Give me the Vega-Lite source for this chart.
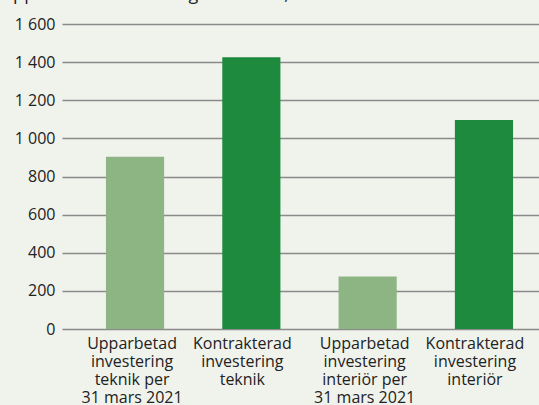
{
  "$schema": "https://vega.github.io/schema/vega-lite/v6.json",
  "width": 495,
  "height": 305,
  "autosize": {"type": "none"},
  "padding": {"left": 62, "top": 24, "right": 0, "bottom": 76},
  "background": "#f0f2ec",
  "title": {
    "text": "Upparbetad investering i tekniken, MSEK",
    "anchor": "start",
    "frame": "group",
    "dx": -62,
    "offset": 12,
    "font": "Open Sans",
    "fontSize": 18,
    "fontWeight": "normal",
    "color": "#222222"
  },
  "data": {
    "values": [
      {"kategori": "Upparbetad|investering|teknik per|31 mars 2021", "typ": "Upparbetad", "varde": 903},
      {"kategori": "Kontrakterad|investering|teknik", "typ": "Kontrakterad", "varde": 1426},
      {"kategori": "Upparbetad|investering|interiör per|31 mars 2021", "typ": "Upparbetad", "varde": 275},
      {"kategori": "Kontrakterad|investering|interiör", "typ": "Kontrakterad", "varde": 1096}
    ]
  },
  "mark": {"type": "bar"},
  "encoding": {
    "x": {
      "field": "kategori",
      "type": "nominal",
      "sort": null,
      "scale": {"paddingInner": 0.5, "paddingOuter": 0.378},
      "axis": {
        "title": null,
        "labelAngle": 0,
        "labelExpr": "split(datum.label, '|')",
        "labelLineHeight": 18,
        "labelPadding": 6,
        "labelBaseline": "top",
        "labelOffset": {"condition": {"test": "indexof(datum.value, 'Kontrakterad') === 0", "value": -9}, "value": -3},
        "domain": false,
        "ticks": false,
        "labelFont": "Open Sans",
        "labelFontSize": 16,
        "labelColor": "#222222",
        "labelLimit": 0
      }
    },
    "y": {
      "field": "varde",
      "type": "quantitative",
      "scale": {"domain": [0, 1600]},
      "axis": {
        "title": null,
        "values": [0, 200, 400, 600, 800, 1000, 1200, 1400, 1600],
        "labelExpr": "replace(format(datum.value, ','), ',', ' ')",
        "domain": false,
        "ticks": false,
        "labelPadding": 7,
        "gridColor": "#8a8a8a",
        "gridWidth": 1.5,
        "gridOpacity": 1,
        "labelFont": "Open Sans",
        "labelFontSize": 16,
        "labelColor": "#222222"
      }
    },
    "color": {
      "field": "typ",
      "type": "nominal",
      "scale": {"domain": ["Upparbetad", "Kontrakterad"], "range": ["#8db583", "#1e8a3e"]},
      "legend": null
    }
  },
  "config": {"view": {"stroke": null}}
}
